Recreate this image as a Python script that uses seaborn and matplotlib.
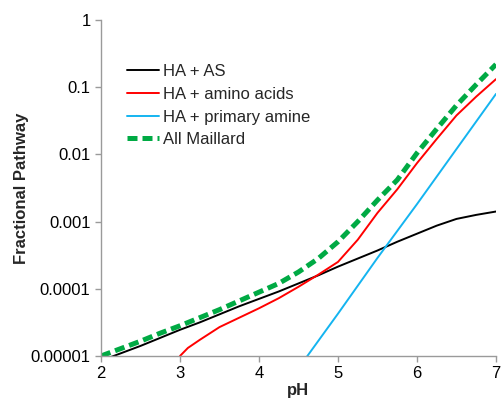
import numpy as np
import pandas as pd
import matplotlib
matplotlib.use("Agg")
import matplotlib.pyplot as plt
from matplotlib.ticker import FixedLocator, FixedFormatter
import seaborn as sns

# values (log10 of fractional pathway)
ph_as = [2.0, 2.25, 2.5, 2.75, 3.0, 3.25, 3.5, 3.75, 4.0, 4.25, 4.5, 4.75,
         5.0, 5.25, 5.5, 5.75, 6.0, 6.25, 6.5, 6.75, 7.0]
log_as = [-5.07, -4.96, -4.85, -4.73, -4.61, -4.50, -4.38, -4.26, -4.15, -4.04,
          -3.92, -3.80, -3.67, -3.55, -3.43, -3.30, -3.18, -3.06, -2.96, -2.90, -2.85]

ph_aa = [3.0, 3.1, 3.25, 3.5, 3.75, 4.0, 4.25, 4.5, 4.75, 5.0, 5.25, 5.5,
         5.75, 6.0, 6.25, 6.5, 6.75, 7.0]
log_aa = [-5.0, -4.88, -4.76, -4.57, -4.43, -4.29, -4.14, -3.97, -3.79, -3.60,
          -3.27, -2.87, -2.52, -2.13, -1.77, -1.42, -1.14, -0.88]

ph_amine = [4.6, 5.0, 5.5, 6.0, 6.5, 7.0]
log_amine = [-5.02, -4.37, -3.54, -2.74, -1.92, -1.10]

ph_all = [2.0, 2.25, 2.5, 2.75, 3.0, 3.25, 3.5, 3.75, 4.0, 4.25, 4.5, 4.75,
          5.0, 5.25, 5.5, 5.75, 6.0, 6.25, 6.5, 6.75, 7.0]
log_all = [-5.00, -4.89, -4.78, -4.66, -4.55, -4.43, -4.31, -4.18, -4.05, -3.92,
           -3.75, -3.55, -3.30, -3.00, -2.68, -2.38, -1.98, -1.62, -1.27, -0.96, -0.66]

yticks = [1e-5, 1e-4, 1e-3, 1e-2, 1e-1, 1]
ytick_labels = ["0.00001", "0.0001", "0.001", "0.01", "0.1", "1"]

sns.set_style("white")
plt.rcParams["font.family"] = ["Liberation Sans", "DejaVu Sans"]

fig, ax = plt.subplots(figsize=(5.01, 4.0), dpi=100)
fig.subplots_adjust(left=0.2016, right=0.99, bottom=0.11, top=0.95)

sns.lineplot(x=ph_as, y=10 ** np.array(log_as), ax=ax, color="black", lw=1.4, label="HA + AS")
sns.lineplot(x=ph_aa, y=10 ** np.array(log_aa), ax=ax, color="#ff0000", lw=1.4, label="HA + amino acids")
sns.lineplot(x=ph_amine, y=10 ** np.array(log_amine), ax=ax, color="#14b4f0", lw=1.4, label="HA + primary amine")
sns.lineplot(x=ph_all, y=10 ** np.array(log_all), ax=ax, color="#00aa44", lw=3.6,
             label="All Maillard", dashes=False)
ax.lines[-1].set_dashes((2.0, 1.0))

ax.set_yscale("log")
ax.set_xlim(2, 7)
ax.set_ylim(1e-5, 1)
ax.yaxis.set_major_locator(FixedLocator(yticks))
ax.yaxis.set_major_formatter(FixedFormatter(ytick_labels))
ax.yaxis.set_minor_locator(FixedLocator([]))
ax.set_xticks([2, 3, 4, 5, 6, 7])

for s in ["top", "right"]:
    ax.spines[s].set_visible(False)
for s in ["left", "bottom"]:
    ax.spines[s].set_color("#9a9a9a")
    ax.spines[s].set_linewidth(1.0)
ax.tick_params(axis="both", which="major", length=4, width=1, color="#9a9a9a",
               direction="out", labelsize=12, labelcolor="black", left=True, bottom=True)

ax.set_xlabel("pH", fontsize=12, fontweight="bold", labelpad=1.5)
ax.set_ylabel("Fractional Pathway", fontsize=12, fontweight="bold", labelpad=1)

ax.legend(loc="upper left", bbox_to_anchor=(0.05, 0.888), frameon=False, fontsize=12,
          handlelength=1.9, handletextpad=0.25, labelspacing=0.46, borderaxespad=0)

fig.savefig("out.png", dpi=100)
